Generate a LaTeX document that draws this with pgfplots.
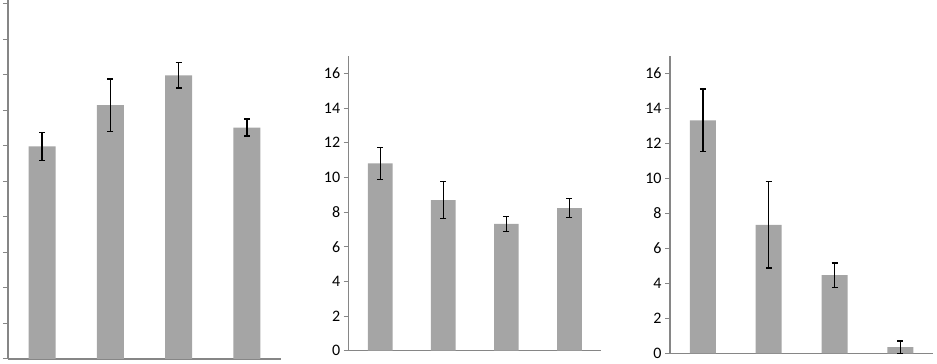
\documentclass[border=0pt]{standalone}
\usepackage{pgfplots}
\pgfplotsset{compat=1.18}
\usepackage{fontspec}
\setmainfont{Carlito}
\definecolor{barc}{HTML}{A5A5A5}
\definecolor{axc}{HTML}{868686}
\pgfplotsset{
  panel/.style={
    scale only axis,
    anchor=origin,
    axis x line=bottom,
    axis y line=left,
    axis line style={axc, line width=1.3pt, -},
    x axis line style={-},
    y axis line style={-},
    xmin=0.5, xmax=4.5,
    ymin=0,
    xtick=\empty,
    tick align=outside,
    major tick length=5pt,
    ytick style={axc, line width=1pt},
    yticklabel style={font=\fontsize{16}{16}\selectfont, text=black},
    /pgf/number format/assume math mode=true,
    ybar, 
    clip=false,
  },
  bars/.style={
    fill=barc, draw=none,
    error bars/.cd, y dir=both, y explicit,
    error bar style={black, line width=1.3pt},
    error mark options={rotate=90, mark size=3pt, line width=1.3pt, black},
  },
}
\begin{document}
\begin{tikzpicture}
\path[use as bounding box] (0,0) rectangle (937pt,364pt);
% Panel 1
\begin{axis}[panel, at={(8pt,5pt)}, width=273pt, height=359pt, ymax=10.1,
  ytick={0,1,...,10}, yticklabels={}, bar width=27pt]
\addplot[bars] coordinates {
  (1,5.98) +- (0,0.39)
  (2,7.14) +- (0,0.74)
  (3,7.98) +- (0,0.36)
  (4,6.51) +- (0,0.24)
};
\end{axis}
% Panel 2
\begin{axis}[panel, at={(348.7pt,13.3pt)}, width=252.3pt, height=294.7pt, ymax=17,
  ytick={0,2,...,16}, bar width=24.7pt]
\addplot[bars] coordinates {
  (1,10.81) +- (0,0.92)
  (2,8.69) +- (0,1.08)
  (3,7.32) +- (0,0.43)
  (4,8.23) +- (0,0.56)
};
\end{axis}
% Panel 3
\begin{axis}[panel, at={(670pt,10.7pt)}, width=263.3pt, height=297.3pt, ymax=17,
  ytick={0,2,...,16}, bar width=26pt]
\addplot[bars] coordinates {
  (1,13.32) +- (0,1.8)
  (2,7.34) +- (0,2.47)
  (3,4.47) +- (0,0.69)
  (4,0.35) +- (0,0.35)
};
\end{axis}
\end{tikzpicture}
\end{document}
